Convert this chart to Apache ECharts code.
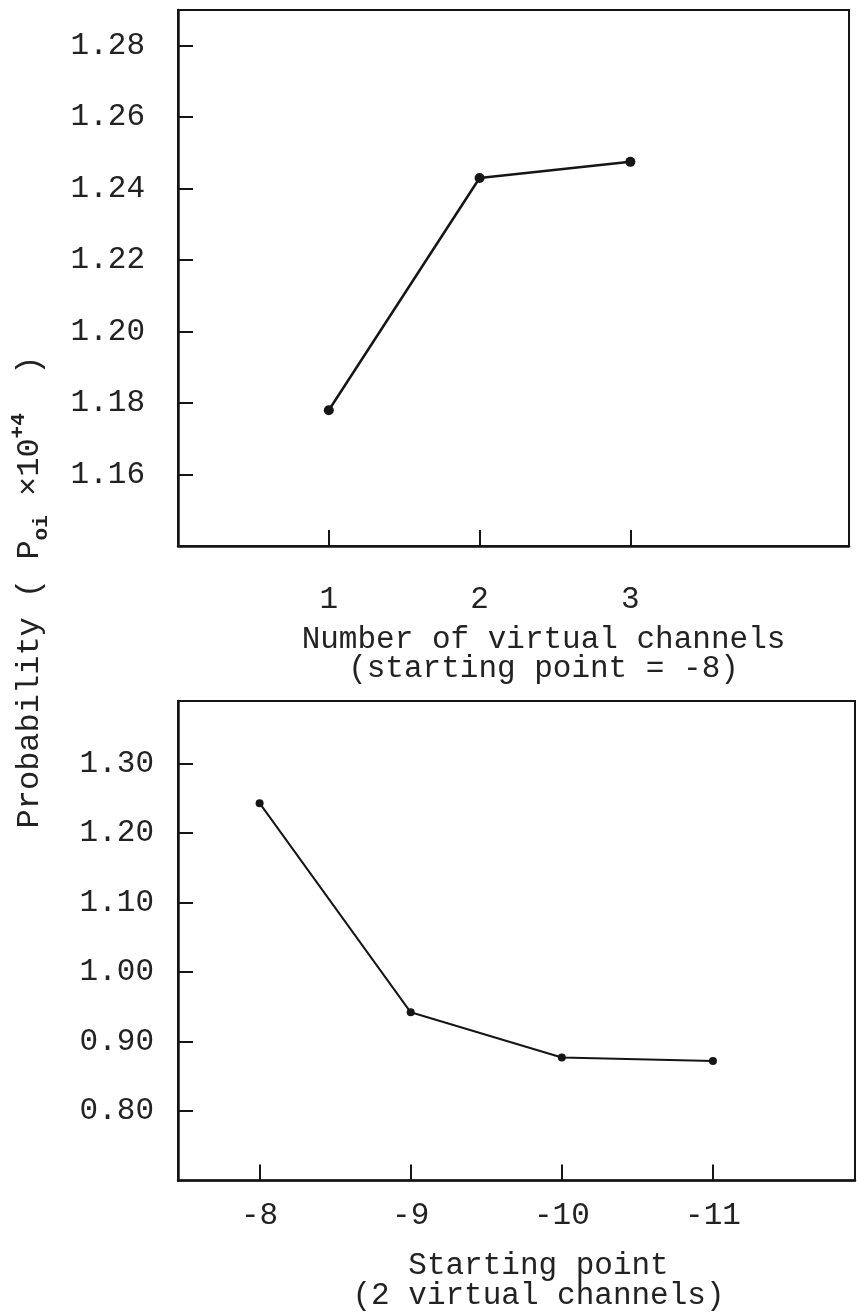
<!DOCTYPE html>
<html>

<head>
    <meta charset="UTF-8">
    <style type="text/css">
        body {
            margin: 0;
            padding: 0;
            overflow: hidden;
            background: #fff;
        }

        #chart {
            width: 857px;
            height: 1312px;
        }
    </style>
</head>

<body>
    <div id="chart"></div>
    <script src="https://cdn.jsdelivr.net/npm/echarts@6/dist/echarts.min.js"></script>
    <script>
        // upper panel: probability vs number of virtual channels (start = -8)
        let channels = [1, 2, 3];
        let probByChannels = [1.178, 1.243, 1.2475];
        let channelTicks = [1, 2, 3];
        let upperYTicks = [1.16, 1.18, 1.20, 1.22, 1.24, 1.26, 1.28];

        // lower panel: probability vs starting point (2 virtual channels)
        let startPoints = [-8, -9, -10, -11];
        let probByStart = [1.243, 0.942, 0.877, 0.872];
        let startTicks = [-8, -9, -10, -11];
        let lowerYTicks = [0.80, 0.90, 1.00, 1.10, 1.20, 1.30];

        let INK = '#151515';
        let TEXT = '#222';
        let FONT = "'Liberation Mono', 'Courier New', monospace";

        var myChart = echarts.init(document.getElementById('chart'));

        function pairs(xs, ys) {
            return xs.map((x, i) => [x, ys[i]]);
        }

        let baseLabel = {
            color: TEXT,
            fontFamily: FONT,
            fontSize: 31
        };

        let option = {
            animation: false,
            backgroundColor: '#fff',
            grid: [
                { left: 178, right: 8, top: 10, height: 536, show: true, borderColor: INK, borderWidth: 2 },
                { left: 178, right: 2, top: 701, height: 493, show: true, borderColor: INK, borderWidth: 2 }
            ],
            xAxis: [
                {
                    gridIndex: 0,
                    type: 'value',
                    min: 0,
                    max: 4.45,
                    splitLine: { show: false },
                    axisLine: { lineStyle: { color: INK, width: 2.5 } },
                    axisTick: { inside: true, length: 16, customValues: channelTicks, lineStyle: { color: INK, width: 2 } },
                    axisLabel: Object.assign({ customValues: channelTicks, margin: 38 }, baseLabel),
                    name: 'Number of virtual channels\n(starting point = -8)',
                    nameLocation: 'middle',
                    nameGap: 79,
                    nameTextStyle: Object.assign({ lineHeight: 29, padding: [0, 0, 0, 60] }, baseLabel)
                },
                {
                    gridIndex: 1,
                    type: 'value',
                    inverse: true,
                    min: -11.94,
                    max: -7.46,
                    splitLine: { show: false },
                    axisLine: { lineStyle: { color: INK, width: 2.5 } },
                    axisTick: { inside: true, length: 16, customValues: startTicks, lineStyle: { color: INK, width: 2 } },
                    axisLabel: Object.assign({ customValues: startTicks, margin: 20 }, baseLabel),
                    name: 'Starting point\n(2 virtual channels)',
                    nameLocation: 'middle',
                    nameGap: 70,
                    nameTextStyle: Object.assign({ lineHeight: 30, padding: [0, 0, 0, 44] }, baseLabel)
                }
            ],
            yAxis: [
                {
                    gridIndex: 0,
                    type: 'value',
                    min: 1.14,
                    max: 1.29,
                    splitLine: { show: false },
                    axisLine: { show: true, lineStyle: { color: INK, width: 2.5 } },
                    axisTick: { show: true, inside: true, length: 15, customValues: upperYTicks, lineStyle: { color: INK, width: 2 } },
                    axisLabel: Object.assign({
                        customValues: upperYTicks,
                        margin: 33,
                        formatter: v => v.toFixed(2)
                    }, baseLabel)
                },
                {
                    gridIndex: 1,
                    type: 'value',
                    min: 0.70,
                    max: 1.39,
                    splitLine: { show: false },
                    axisLine: { show: true, lineStyle: { color: INK, width: 2.5 } },
                    axisTick: { show: true, inside: true, length: 15, customValues: lowerYTicks, lineStyle: { color: INK, width: 2 } },
                    axisLabel: Object.assign({
                        customValues: lowerYTicks,
                        margin: 24,
                        formatter: v => v.toFixed(2)
                    }, baseLabel)
                }
            ],
            series: [
                {
                    type: 'line',
                    xAxisIndex: 0,
                    yAxisIndex: 0,
                    data: pairs(channels, probByChannels),
                    symbol: 'circle',
                    symbolSize: 10,
                    itemStyle: { color: INK },
                    lineStyle: { color: INK, width: 2.5 }
                },
                {
                    type: 'line',
                    xAxisIndex: 1,
                    yAxisIndex: 1,
                    data: pairs(startPoints, probByStart),
                    symbol: 'circle',
                    symbolSize: 8,
                    itemStyle: { color: INK },
                    lineStyle: { color: INK, width: 2 }
                }
            ],
            graphic: [
                {
                    type: 'text',
                    x: 30,
                    y: 592,
                    rotation: Math.PI / 2,
                    style: {
                        text: '{a|Probability ( P}{s|oi}{a| ×10}{p|+4}{a|  )}',
                        align: 'center',
                        verticalAlign: 'middle',
                        fill: TEXT,
                        rich: {
                            a: { fontFamily: FONT, fontSize: 32, lineHeight: 44, verticalAlign: 'middle', fill: TEXT },
                            s: { fontFamily: FONT, fontSize: 21, fontWeight: 'bold', lineHeight: 44, verticalAlign: 'bottom', fill: TEXT },
                            p: { fontFamily: FONT, fontSize: 21, fontWeight: 'bold', lineHeight: 44, verticalAlign: 'top', fill: TEXT }
                        }
                    }
                }
            ]
        };
        myChart.setOption(option);
        window.onresize = myChart.resize;
    </script>
</body>

</html>
